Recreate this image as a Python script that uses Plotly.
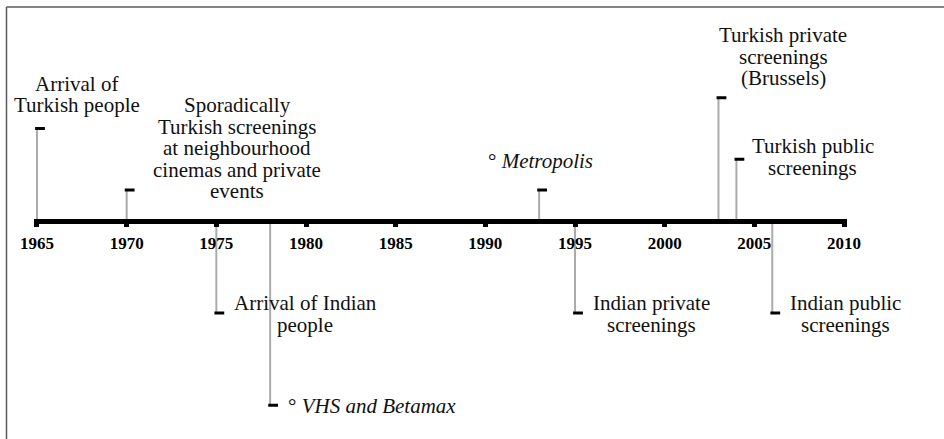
import plotly.graph_objects as go

# ---- data ----
event_years = [1965, 1970, 1975, 1978, 1993, 1995, 2003, 2004, 2006]
event_heights = [15, 5, -15, -30, 5, -15, 20, 10, -15]
event_labels = [
    ["Arrival of", "Turkish people"],
    ["Sporadically", "Turkish screenings", "at neighbourhood", "cinemas and private", "events"],
    ["Arrival of Indian", "people"],
    ["° <i>VHS and Betamax</i>"],
    ["° <i>Metropolis</i>"],
    ["Indian private", "screenings"],
    ["Turkish private", "screenings", "(Brussels)"],
    ["Turkish public", "screenings"],
    ["Indian public", "screenings"],
]
tick_years = [1965, 1970, 1975, 1980, 1985, 1990, 1995, 2000, 2005, 2010]

# ---- layout / style (pixel offsets of each label block from its event point) ----
label_offsets = [  # (dx px, dy of first line px, upward positive)
    (40, 44.8), (110.4, 84.6), (88.7, 10), (102, -1), (1.4, 29),
    (76.6, 10), (64.7, 62.75), (76.5, 13.25), (72.9, 10),
]
LINE_PITCH = 21.5
W, H = 944, 439
ML, MR, MT, MB = 34, 97, 67, 3
X_RANGE = [1964.833, 2010.167]
Y_RANGE = [-35, 25]
px_per_year = (W - ML - MR) / (X_RANGE[1] - X_RANGE[0])
FONT = "Liberation Serif"

fig = go.Figure()

# stems
sx, sy = [], []
for yr, h in zip(event_years, event_heights):
    sx += [yr, yr, None]
    sy += [0, h, None]
fig.add_trace(go.Scatter(x=sx, y=sy, mode="lines",
                         line=dict(color="#ababab", width=2),
                         hoverinfo="skip", showlegend=False))

# end caps (small black dashes to the right of each stem)
cap_offset = 3 / px_per_year
fig.add_trace(go.Scatter(x=[yr + cap_offset for yr in event_years], y=event_heights,
                         mode="markers",
                         marker=dict(symbol="line-ew", size=7,
                                     line=dict(color="black", width=3)),
                         hoverinfo="skip", showlegend=False))

# labels
for yr, h, lines, (dx, dy0) in zip(event_years, event_heights, event_labels, label_offsets):
    for i, line in enumerate(lines):
        fig.add_annotation(x=yr, y=h, xref="x", yref="y", text=line,
                           showarrow=False, xanchor="center", yanchor="middle",
                           xshift=dx, yshift=dy0 - i * LINE_PITCH,
                           font=dict(family=FONT, size=21, color="#111111"))

# frame (top and left edges of the cropped figure border)
plot_w, plot_h = W - ML - MR, H - MT - MB
def px2paper_x(px):
    return (px - ML) / plot_w
def px2paper_y(py):
    return (H - MB - py) / plot_h
fig.add_shape(type="line", xref="paper", yref="paper",
              x0=px2paper_x(6.5), x1=px2paper_x(W), y0=px2paper_y(7), y1=px2paper_y(7),
              line=dict(color="#5a5a5a", width=1.5))
fig.add_shape(type="line", xref="paper", yref="paper",
              x0=px2paper_x(6.5), x1=px2paper_x(6.5), y0=px2paper_y(7), y1=px2paper_y(H),
              line=dict(color="#5a5a5a", width=1.5))

fig.update_layout(
    width=W, height=H, autosize=False,
    margin=dict(l=ML, r=MR, t=MT, b=MB, pad=0),
    paper_bgcolor="white", plot_bgcolor="white",
    showlegend=False,
    xaxis=dict(range=X_RANGE, anchor="free",
               position=(0 - Y_RANGE[0]) / (Y_RANGE[1] - Y_RANGE[0]),
               showline=True, linecolor="black", linewidth=5,
               showgrid=False, zeroline=False,
               tickmode="array", tickvals=tick_years,
               ticktext=[str(t) for t in tick_years],
               ticks="outside", ticklen=3, tickwidth=5, tickcolor="black",
               ticklabelstandoff=2,
               tickfont=dict(family=FONT, size=17, color="black", weight="bold"),
               fixedrange=True),
    yaxis=dict(range=Y_RANGE, visible=False, fixedrange=True),
)

fig.write_html("out.html", config={"displayModeBar": False},
               post_script="document.body.style.margin='0';document.body.style.overflow='hidden';")
